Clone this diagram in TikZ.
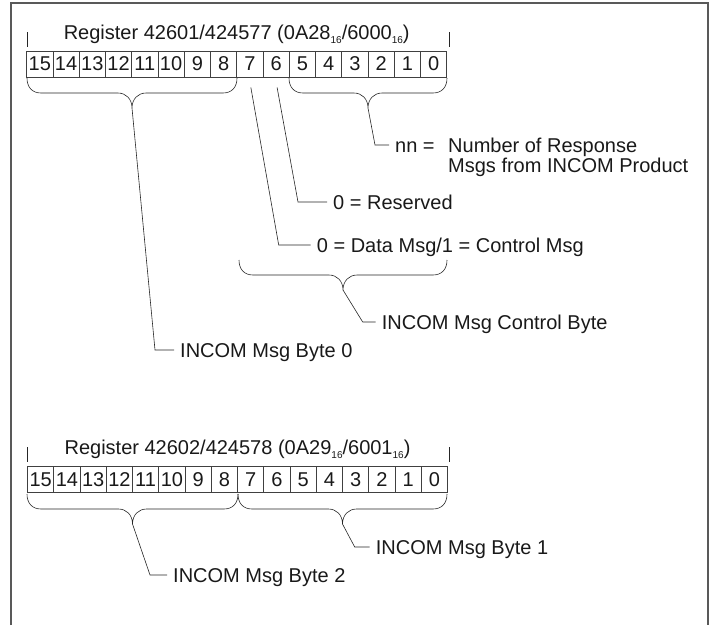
\documentclass[tikz,border=0pt]{standalone}
\usepackage{fontspec}
\setmainfont{Liberation Sans}
\usepackage{tikz}

\newcommand{\brc}[4]{%
\path (#1,#3) coordinate (#4l) ({(#1+#2)/2},#3+30) coordinate (#4);
\draw[ln] (#4l) .. controls (#1,#3+9) and (#1+5,#3+15) .. (#1+14,#3+15)
  -- ({(#1+#2)/2-14},#3+15) .. controls ({(#1+#2)/2-6},#3+15) and ({(#1+#2)/2},#3+21) .. (#4)
  .. controls ({(#1+#2)/2},#3+21) and ({(#1+#2)/2+6},#3+15) .. ({(#1+#2)/2+14},#3+15)
  -- (#2-14,#3+15) .. controls (#2-5,#3+15) and (#2,#3+9) .. (#2,#3);}
\newcommand{\sxt}{\raisebox{-4pt}{\fontsize{10}{10}\selectfont 16}}

\begin{document}
\begin{tikzpicture}[x=1pt,y=-1pt,
  every node/.style={font=\fontsize{20}{15.5}\selectfont,text=black!90},
  bit/.style={draw=black!75,line width=0.6pt,minimum width=26.25pt,minimum height=26pt,inner sep=0},
  lbl/.style={anchor=west,inner xsep=6pt,inner ysep=0,text height=14pt,text depth=0pt},
  ln/.style={draw=black!85,line width=0.6pt}]
\useasboundingbox (0,0) rectangle (712,625);
\draw[black!65,line width=1.2pt] (11,625) -- (11,3) -- (708,3) -- (708,625);

\node (r1) [anchor=base] at (236.7,39.5) {Register 42601/424577 (0A28\sxt/6000\sxt)};
\draw[ln] (27,32) -- (27,47) (449,32) -- (449,47);
\foreach \i in {0,...,15}
  \node[bit] (a\i) at ({446.7-26.25*(\i+0.5)},64) {\i};
\brc{27}{237}{78}{ta}
\brc{289}{447}{78}{tb}
\brc{239}{447}{260}{tc}
\node[lbl] (nn) at (389,145) {nn =};
\node[anchor=north west,inner sep=0,align=left] (nr) at (448,138.3) {Number of Response\\Msgs from INCOM Product};
\node[lbl] (rs) at (327,202) {0 = Reserved};
\node[lbl] (dm) at (310.7,245) {0 = Data Msg/1 = Control Msg};
\node[lbl] (cb) at (375.7,322) {INCOM Msg Control Byte};
\node[lbl] (b0) at (174,350) {INCOM Msg Byte 0};
\draw[ln] (tb) -- ([xshift=-14pt]nn.west) -- (nn.west);
\draw[ln] ([xshift=1pt,yshift=-10pt]a6.south) -- ([xshift=-29pt]rs.west) -- (rs.west);
\draw[ln] ([xshift=1pt,yshift=-10pt]a7.south) -- ([xshift=-32pt]dm.west) -- (dm.west);
\draw[ln] (tc) -- ([xshift=-13pt]cb.west) -- (cb.west);
\draw[ln] (ta) -- ([xshift=-19pt]b0.west) -- (b0.west);

\node (r2) [anchor=base] at (237.5,454) {Register 42602/424578 (0A29\sxt/6001\sxt)};
\draw[ln] (27,447) -- (27,462) (449,447) -- (449,462);
\foreach \i in {0,...,15}
  \node[bit] (c\i) at ({447.5-26.25*(\i+0.5)},479.5) {\i};
\brc{27}{238}{494}{td}
\brc{238}{447}{494}{te}
\node[lbl] (b1) at (369.7,547) {INCOM Msg Byte 1};
\node[lbl] (b2) at (167,575) {INCOM Msg Byte 2};
\draw[ln] (te) -- ([xshift=-15pt]b1.west) -- (b1.west);
\draw[ln] (td) -- ([xshift=-17pt]b2.west) -- (b2.west);
\end{tikzpicture}
\end{document}
